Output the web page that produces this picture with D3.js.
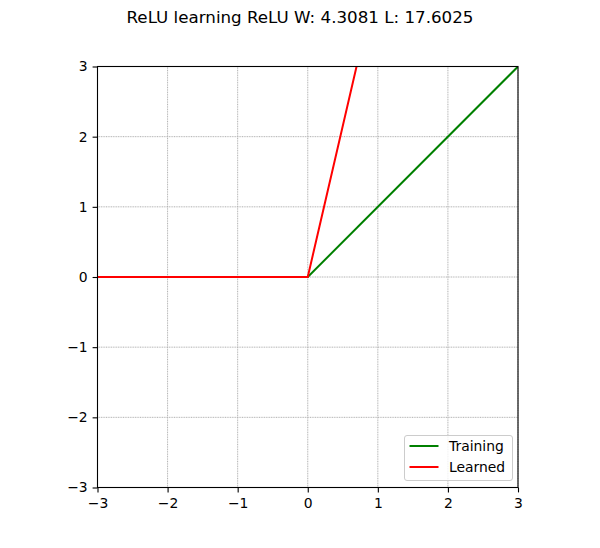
<!DOCTYPE html>
<html>
<head>
<meta charset="utf-8">
<script src="https://cdn.jsdelivr.net/npm/d3@7"></script>
<style>
  body { margin: 0; background: #fff; }
  text { font-family: "DejaVu Sans", sans-serif; }
</style>
</head>
<body>
<svg id="chart" width="600" height="548"></svg>
<script>
const xTicks = [-3, -2, -1, 0, 1, 2, 3];
const yTicks = [-3, -2, -1, 0, 1, 2, 3];
const trainingX = [-3, 0, 3];
const trainingY = [0, 0, 3];
const learnedW = 4.3081;
const learnedX = [-3, 0, 3];
const learnedY = [0, 0, 3 * learnedW];
const seriesNames = ["Training", "Learned"];
const seriesColors = ["green", "red"];
const title = "ReLU learning ReLU W: 4.3081 L: 17.6025";

const margin = { left: 97.5, top: 66.5, right: 82, bottom: 60.5 };
const width = 600, height = 548;
const svg = d3.select("#chart");

const x = d3.scaleLinear().domain([-3, 3]).range([margin.left, width - margin.right]);
const y = d3.scaleLinear().domain([-3, 3]).range([height - margin.bottom, margin.top]);

svg.append("defs").append("clipPath").attr("id", "clip")
  .append("rect")
  .attr("x", x(-3)).attr("y", y(3))
  .attr("width", x(3) - x(-3)).attr("height", y(-3) - y(3));

// grid
const grid = svg.append("g").attr("stroke", "#b0b0b0").attr("stroke-width", 1)
  .attr("stroke-dasharray", "1,0.7");
grid.selectAll(".gx").data(xTicks).enter().append("line")
  .attr("x1", d => x(d)).attr("x2", d => x(d))
  .attr("y1", y(-3)).attr("y2", y(3));
grid.selectAll(".gy").data(yTicks).enter().append("line")
  .attr("x1", x(-3)).attr("x2", x(3))
  .attr("y1", d => y(d)).attr("y2", d => y(d));

// lines
const line = d3.line().x(d => x(d[0])).y(d => y(d[1]));
const plot = svg.append("g").attr("clip-path", "url(#clip)");
plot.append("path")
  .datum(d3.zip(trainingX, trainingY))
  .attr("d", line).attr("fill", "none")
  .attr("stroke", seriesColors[0]).attr("stroke-width", 2);
plot.append("path")
  .datum(d3.zip(learnedX, learnedY))
  .attr("d", line).attr("fill", "none")
  .attr("stroke", seriesColors[1]).attr("stroke-width", 2);

// axes
const fmt = d => d < 0 ? "\u2212" + Math.abs(d) : String(d);
const xAxis = svg.append("g").attr("transform", `translate(0,${y(-3)})`)
  .call(d3.axisBottom(x).tickValues(xTicks).tickFormat(fmt).tickSizeOuter(0).tickSize(4.9).tickPadding(6));
const yAxis = svg.append("g").attr("transform", `translate(${x(-3)},0)`)
  .call(d3.axisLeft(y).tickValues(yTicks).tickFormat(fmt).tickSizeOuter(0).tickSize(4.9).tickPadding(5));
[xAxis, yAxis].forEach(a => {
  a.select(".domain").remove();
  a.selectAll("line").attr("stroke", "#000").attr("stroke-width", 1.1);
  a.selectAll("text").attr("font-size", 13.9).attr("fill", "#000")
    .style("font-family", "DejaVu Sans, sans-serif");
});

// frame
svg.append("rect")
  .attr("x", x(-3)).attr("y", y(3))
  .attr("width", x(3) - x(-3)).attr("height", y(-3) - y(3))
  .attr("fill", "none").attr("stroke", "#000").attr("stroke-width", 1.1);

// title
svg.append("text")
  .attr("x", width / 2).attr("y", 23)
  .attr("text-anchor", "middle").attr("font-size", 16.7)
  .text(title);

// legend
const lg = svg.append("g").attr("transform", "translate(404.5,435.5)");
lg.append("rect").attr("width", 108).attr("height", 45).attr("rx", 2.5)
  .attr("fill", "#fff").attr("fill-opacity", 0.8)
  .attr("stroke", "#ccc").attr("stroke-width", 1);
seriesNames.forEach((name, i) => {
  const ly = 10.5 + i * 21;
  lg.append("line").attr("x1", 5).attr("x2", 34).attr("y1", ly).attr("y2", ly)
    .attr("stroke", seriesColors[i]).attr("stroke-width", 2);
  lg.append("text").attr("x", 44.5).attr("y", ly).attr("dy", "0.35em")
    .attr("font-size", 13.9).text(name);
});
</script>
</body>
</html>
